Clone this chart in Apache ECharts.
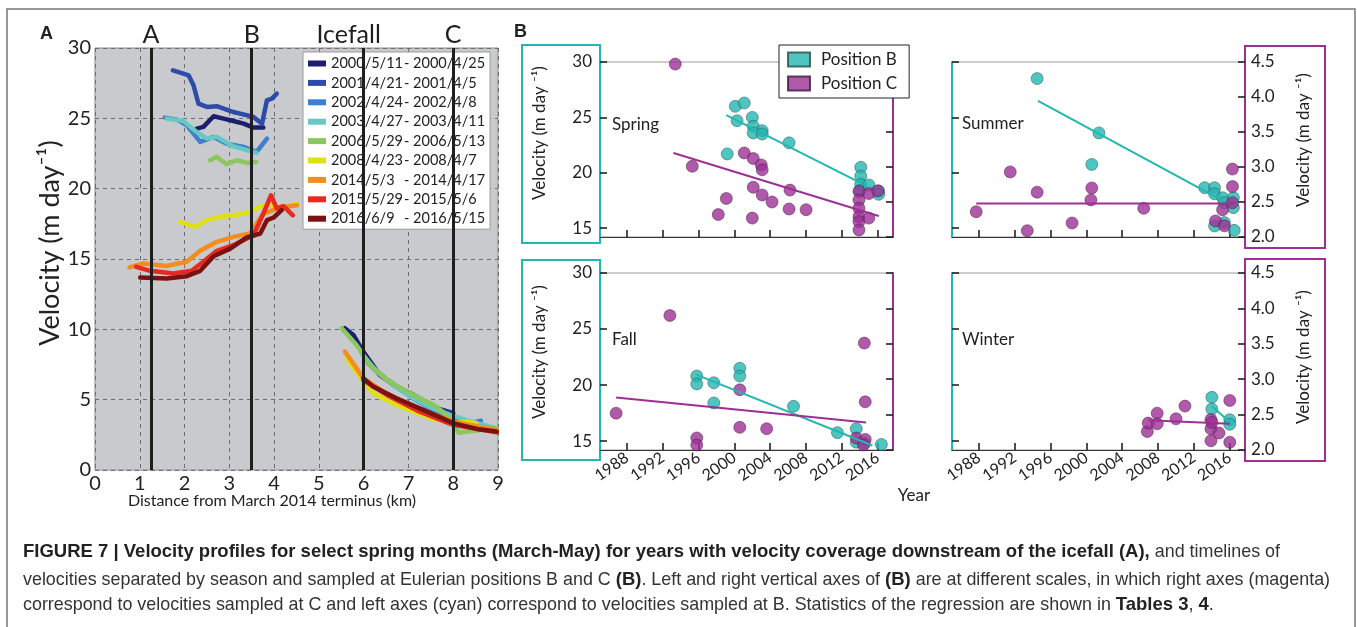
<!DOCTYPE html>
<html>
<head>
<meta charset="utf-8">
<script src="https://cdn.jsdelivr.net/npm/echarts@6.0.0/dist/echarts.min.js"></script>
<style>
  html, body { margin: 0; padding: 0; background: #fff; }
  #chart { width: 1357px; height: 627px; }
</style>
</head>
<body>
<div id="chart"></div>
<script>
// ---- Panel A: spring velocity profiles (km, m/day) ----
const profileNames = [
  '2000/5/11 - 2000/4/25', '2001/4/21 - 2001/4/5', '2002/4/24 - 2002/4/8',
  '2003/4/27 - 2003/4/11', '2006/5/29 - 2006/5/13', '2008/4/23 - 2008/4/7',
  '2014/5/3 - 2014/4/17', '2015/5/29 - 2015/5/6', '2016/6/9 - 2016/5/15'
]
const profileColors = ['#1d1f6e', '#2d4ba9', '#3c80cf', '#67c8c3', '#8bc65e', '#dfe013', '#f38d1d', '#e8291f', '#7b1212']

const up2000 = [[2.27, 24.27], [2.42, 24.39], [2.65, 25.15], [2.87, 24.98], [3.09, 24.81], [3.32, 24.62], [3.54, 24.34], [3.76, 24.34]]
const up2001 = [[1.74, 28.41], [1.94, 28.22], [2.09, 28.06], [2.2, 27.35], [2.31, 26.05], [2.5, 25.81], [2.72, 25.86], [3.09, 25.45], [3.54, 25.1], [3.73, 24.62], [3.84, 26.28], [3.95, 26.4], [4.06, 26.76]]
const up2002 = [[1.56, 25.05], [1.83, 24.91], [2.05, 24.51], [2.35, 23.32], [2.65, 23.68], [2.94, 23.2], [3.32, 22.97], [3.61, 22.61], [3.84, 23.56]]
const up2003 = [[1.6, 24.98], [1.97, 24.81], [2.27, 24.03], [2.5, 23.56], [2.72, 23.68], [3.09, 23.01], [3.61, 22.54]]
const up2006 = [[2.57, 22.02], [2.72, 22.26], [2.94, 21.74], [3.17, 22.02], [3.39, 21.83], [3.6, 21.9]]
const up2008 = [[1.9, 17.64], [2.24, 17.28], [2.5, 17.76], [2.79, 18.0], [3.09, 18.11], [3.46, 18.35], [3.76, 18.82], [4.14, 18.7], [4.51, 18.89]]
const up2014 = [[0.77, 14.4], [1.08, 14.68], [1.6, 14.51], [2.05, 14.8], [2.35, 15.58], [2.72, 16.22], [3.09, 16.57], [3.46, 16.81], [3.76, 18.23], [4.14, 18.66], [4.51, 18.82]]
const up2015 = [[0.92, 14.44], [1.23, 14.16], [1.75, 13.97], [2.16, 14.16], [2.42, 14.8], [2.72, 15.58], [3.09, 15.98], [3.54, 16.69], [3.76, 18.23], [3.93, 19.53], [4.06, 18.59], [4.21, 18.75], [4.42, 18.11]]
const up2016 = [[1.01, 13.68], [1.6, 13.61], [2.05, 13.78], [2.35, 14.16], [2.65, 15.2], [3.02, 15.74], [3.39, 16.53], [3.69, 16.81], [3.84, 17.76], [3.99, 17.95], [4.17, 18.47]]

const down2000 = [[5.58, 10.08], [5.77, 9.6], [5.99, 8.42], [6.36, 6.76], [6.73, 5.93], [7.11, 5.34], [7.63, 4.39], [8.0, 4.04]]
const down2001 = [[6.1, 7.6], [6.4, 6.7], [6.8, 5.8], [7.2, 5.1], [7.6, 4.4], [7.98, 3.95]]
const down2002 = [[6.2, 7.3], [6.6, 6.2], [7.1, 5.1], [7.6, 4.2], [8.1, 3.55], [8.4, 3.35], [8.62, 3.5]]
const down2003 = [[5.95, 8.3], [6.29, 7.0], [6.7, 5.95], [7.11, 5.1], [7.5, 4.45], [7.92, 3.92], [8.52, 3.33], [8.97, 2.97]]
const down2006 = [[5.51, 10.08], [5.84, 8.89], [6.14, 7.47], [6.58, 6.28], [7.11, 5.34], [7.63, 4.51], [7.95, 3.6], [8.12, 2.65], [8.37, 2.75], [8.97, 2.97]]
const down2008 = [[5.62, 7.95], [5.92, 6.64], [6.21, 5.46], [6.73, 4.63], [7.2, 4.05], [7.48, 3.68], [8.07, 3.33], [8.3, 3.44], [8.52, 3.33]]
const down2014 = [[5.58, 8.42], [5.84, 7.24], [5.99, 6.53], [6.44, 5.57], [7.11, 4.51], [8.0, 3.44], [8.97, 2.85]]
const down2015 = [[5.99, 6.4], [6.58, 5.22], [7.25, 4.15], [8.0, 3.21], [8.97, 2.69]]
const down2016 = [[5.99, 6.53], [6.21, 5.93], [6.73, 5.1], [7.33, 4.27], [8.0, 3.33], [8.52, 2.92], [8.97, 2.73]]

const upstream = [up2000, up2001, up2002, up2003, up2006, up2008, up2014, up2015, up2016]
const downstream = [down2000, down2001, down2002, down2003, down2006, down2008, down2014, down2015, down2016]

// Eulerian positions and icefall (km)
const positionNames = ['A', 'B', 'Icefall', 'C']
const positionKm = [1.25, 3.5, 6, 8]

// ---- Panel B: seasonal timelines (B on left axis, C on right axis) ----
const yearTicks = [1988, 1992, 1996, 2000, 2004, 2008, 2012, 2016]
const leftTicks = [15, 20, 25, 30]

const springB = [[2000.1, 26.0], [2001.1, 26.3], [2000.3, 24.7], [2002.0, 25.0], [2002.1, 24.2], [2003.1, 23.8], [2002.1, 23.6], [2003.1, 23.5], [2006.1, 22.7], [1999.2, 21.7], [2014.1, 20.5], [2014.1, 19.7], [2014.1, 18.95], [2014.0, 18.4], [2015.0, 18.9], [2016.1, 18.35], [2016.1, 18.05]]
const springC = [[1993.4, 4.47], [1995.3, 3.01], [1998.2, 2.32], [1999.1, 2.55], [2001.1, 3.2], [2002.1, 3.12], [2003.0, 3.03], [2003.1, 2.96], [2002.1, 2.71], [2003.1, 2.6], [2004.2, 2.5], [2002.0, 2.27], [2006.2, 2.67], [2006.1, 2.4], [2008.0, 2.39], [2013.9, 2.65], [2013.9, 2.53], [2013.9, 2.41], [2013.9, 2.29], [2013.9, 2.22], [2013.9, 2.1], [2015.0, 2.62], [2015.0, 2.27], [2016.0, 2.66]]
const springBFit = [[1999.1, 25.2], [2014.3, 19.0]]
const springCFit = [[1993.2, 3.2], [2016.1, 2.3]]

const summerB = [[1994.5, 28.5], [2001.4, 23.6], [2000.6, 20.75], [2013.2, 18.65], [2014.3, 18.65], [2014.3, 18.1], [2015.2, 17.75], [2016.4, 17.75], [2015.4, 17.3], [2016.4, 16.85], [2014.3, 15.2], [2015.4, 15.5], [2016.5, 14.8]]
const summerC = [[1987.7, 2.36], [1991.5, 2.93], [1993.4, 2.09], [1994.5, 2.64], [1998.4, 2.2], [2000.6, 2.7], [2000.5, 2.53], [2006.4, 2.41], [2014.4, 2.23], [2015.4, 2.16], [2015.2, 2.39], [2016.3, 2.97], [2016.3, 2.72], [2016.3, 2.49]]
const summerBFit = [[1994.6, 26.5], [2015.4, 17.4]]
const summerCFit = [[1987.7, 2.48], [2016.4, 2.48]]

const fallB = [[1995.8, 20.8], [1995.8, 20.1], [1997.7, 20.2], [1997.7, 18.4], [2000.6, 21.5], [2000.6, 20.8], [2006.6, 18.1], [2011.5, 15.75], [2013.6, 16.1], [2013.6, 14.9], [2014.5, 14.8], [2016.4, 14.7]]
const fallC = [[1986.8, 2.52], [1992.8, 3.9], [1995.8, 2.17], [1995.8, 2.07], [2000.6, 2.85], [2000.6, 2.32], [2003.6, 2.3], [2013.6, 2.17], [2014.5, 3.51], [2014.6, 2.68], [2014.6, 2.15], [2014.4, 2.07]]
const fallBFit = [[1995.8, 20.9], [2015.4, 14.6]]
const fallCFit = [[1986.8, 2.74], [2014.7, 2.39]]

const winterB = [[2014.0, 18.9], [2014.0, 17.85], [2016.0, 16.9], [2016.0, 16.5]]
const winterC = [[2006.8, 2.26], [2006.9, 2.38], [2007.9, 2.52], [2007.9, 2.37], [2010.0, 2.44], [2011.0, 2.62], [2013.9, 2.43], [2013.9, 2.3], [2013.9, 2.13], [2014.0, 2.39], [2014.8, 2.24], [2016.0, 2.7], [2016.0, 2.11]]
const winterBFit = [[2014.0, 18.1], [2016.0, 16.7]]
const winterCFit = [[2006.9, 2.42], [2016.0, 2.37]]

const seasons = ['Spring', 'Summer', 'Fall', 'Winter']
const seasonB = [springB, summerB, fallB, winterB]
const seasonC = [springC, summerC, fallC, winterC]
const seasonBFit = [springBFit, summerBFit, fallBFit, winterBFit]
const seasonCFit = [springCFit, summerCFit, fallCFit, winterCFit]

const cyan = '#22b7b2'
const magenta = '#9d2f95'
const font = 'Lato'
const capFont = 'Liberation Sans'

// layout of the four small panels: [left, top, height]
const smallGrids = [[600, 62, 175], [952, 62, 175], [600, 273, 177], [952, 273, 177]]

const grids = [{left: 95, top: 48, width: 403, height: 422, show: true, backgroundColor: '#c9cacd', borderColor: '#8a8a8a', borderWidth: 1}]
smallGrids.forEach(g => grids.push({left: g[0], top: g[1], width: 293, height: g[2], show: true, backgroundColor: '#fff', borderColor: '#9a9a9a', borderWidth: 1}))

const xAxes = [{
  gridIndex: 0, type: 'value', min: 0, max: 9, interval: 1,
  axisLine: {show: false}, axisTick: {show: false},
  axisLabel: {fontSize: 20, color: '#222', fontFamily: font, margin: 4},
  splitLine: {show: true, lineStyle: {color: '#6e6e6e', type: [4, 4], width: 1}}
}]
const yAxes = [{
  gridIndex: 0, type: 'value', min: 0, max: 30, interval: 5,
  axisLine: {show: false}, axisTick: {show: false},
  axisLabel: {fontSize: 20, color: '#222', fontFamily: font, margin: 4},
  splitLine: {show: true, lineStyle: {color: '#6e6e6e', type: [4, 4], width: 1}}
}]

seasons.forEach((s, i) => {
  const gi = i + 1
  const bottomRow = i >= 2
  const leftCol = i % 2 === 0
  xAxes.push({
    gridIndex: gi, type: 'value', min: 1985, max: 2017.7,
    axisLine: {show: true, lineStyle: {color: '#333', width: 1}},
    axisTick: {show: true, inside: true, length: 7, customValues: yearTicks, lineStyle: {color: '#222', width: 1.6}},
    axisLabel: {show: bottomRow, customValues: yearTicks, rotate: 35, fontSize: 16, color: '#222', fontFamily: font, margin: 6,
      formatter: v => String(v)},
    splitLine: {show: false}
  })
  yAxes.push({
    gridIndex: gi, type: 'value', position: 'left', min: 14.2, max: 30,
    axisLine: {show: true, lineStyle: {color: cyan, width: 2}},
    axisTick: {show: true, inside: true, length: 7, customValues: leftTicks, lineStyle: {color: '#222', width: 1.6}},
    axisLabel: {show: leftCol, customValues: leftTicks, fontSize: 17, color: '#222', fontFamily: font, margin: 8},
    splitLine: {show: false}
  })
  yAxes.push({
    gridIndex: gi, type: 'value', position: 'right', min: 2.0, max: 4.5, interval: 0.5,
    axisLine: {show: true, lineStyle: {color: magenta, width: 2}},
    axisTick: {show: true, inside: true, length: 7, lineStyle: {color: '#222', width: 1.6}},
    axisLabel: {show: !leftCol, fontSize: 17, color: '#222', fontFamily: font, margin: 6, formatter: v => v.toFixed(1)},
    splitLine: {show: false}
  })
})

const series = []
// vertical position markers
series.push({
  type: 'line', xAxisIndex: 0, yAxisIndex: 0, data: [], silent: true,
  markLine: {
    symbol: 'none', silent: true, animation: false,
    lineStyle: {color: '#1e1e1e', type: 'solid', width: 3},
    label: {show: true, position: 'end', formatter: '{b}', fontSize: 25, color: '#1e1e1e', fontFamily: font, distance: 1},
    data: positionNames.map((n, i) => ({name: n, xAxis: positionKm[i], label: {offset: [n === 'Icefall' ? -15 : 0, 0]}}))
  }
})
profileNames.forEach((n, i) => {
  const style = {name: n, type: 'line', xAxisIndex: 0, yAxisIndex: 0, symbol: 'none', color: profileColors[i],
    lineStyle: {width: 4.5, color: profileColors[i], cap: 'round', join: 'round'}, animation: false}
  series.push({...style, data: upstream[i]})
  series.push({...style, data: downstream[i]})
})
seasons.forEach((s, i) => {
  const xi = i + 1
  const yl = 1 + i * 2
  const yr = 2 + i * 2
  series.push({name: 'fitB', type: 'line', xAxisIndex: xi, yAxisIndex: yl, data: seasonBFit[i], symbol: 'none', lineStyle: {color: cyan, width: 2}, animation: false})
  series.push({name: 'fitC', type: 'line', xAxisIndex: xi, yAxisIndex: yr, data: seasonCFit[i], symbol: 'none', lineStyle: {color: magenta, width: 2}, animation: false})
  series.push({name: 'Position B', type: 'scatter', xAxisIndex: xi, yAxisIndex: yl, data: seasonB[i], symbolSize: 12, color: cyan,
    itemStyle: {color: cyan, borderColor: '#2a4a48', borderWidth: 0.6}, animation: false})
  series.push({name: 'Position C', type: 'scatter', xAxisIndex: xi, yAxisIndex: yr, data: seasonC[i], symbolSize: 12, color: magenta,
    itemStyle: {color: magenta, borderColor: '#3a1a38', borderWidth: 0.6}, animation: false})
})

const txt = (x, y, text, opts = {}) => ({
  type: 'text', x, y, rotation: opts.rotation || 0, silent: true,
  style: {text, fontSize: opts.size || 17, fontFamily: opts.family || font, fontWeight: opts.weight || 'normal',
    fill: '#222', align: opts.align || 'left', verticalAlign: 'middle', rich: opts.rich}
})
const box = (x, y, w, h, color) => ({type: 'rect', silent: true, shape: {x, y, width: w, height: h}, style: {fill: 'none', stroke: color, lineWidth: 2}})

const capRich = {
  b: {fontFamily: capFont, fontSize: 18.5, fontWeight: 'bold', fill: '#222'},
  n: {fontFamily: capFont, fontSize: 17.9, fill: '#333'}
}

const graphics = [
  {type: 'rect', silent: true, shape: {x: 7, y: 9, width: 1348, height: 640}, style: {fill: 'none', stroke: '#777', lineWidth: 1.5}},
  txt(40, 34, 'A', {weight: 'bold', size: 18, family: 'Liberation Sans'}),
  txt(514, 32, 'B', {weight: 'bold', size: 18, family: 'Liberation Sans'}),
  txt(50, 243, 'Velocity (m day⁻¹)', {size: 27, align: 'center', rotation: Math.PI / 2}),
  txt(272, 501, 'Distance from March 2014 terminus (km)', {size: 16, align: 'center'}),
  txt(914, 496, 'Year', {size: 17, align: 'center'}),
  box(522, 45, 78, 198, cyan),
  box(522, 260, 78, 200, cyan),
  box(1245, 46, 80, 202, magenta),
  box(1245, 259, 80, 202, magenta),
  txt(540, 133, 'Velocity (m day ⁻¹)', {size: 17, align: 'center', rotation: Math.PI / 2}),
  txt(540, 352, 'Velocity (m day ⁻¹)', {size: 17, align: 'center', rotation: Math.PI / 2}),
  txt(1304, 140, 'Velocity (m day ⁻¹)', {size: 17, align: 'center', rotation: Math.PI / 2}),
  txt(1304, 357, 'Velocity (m day ⁻¹)', {size: 17, align: 'center', rotation: Math.PI / 2}),
  txt(612, 125, seasons[0], {size: 17}),
  txt(962, 124, seasons[1], {size: 17}),
  txt(612, 340, seasons[2], {size: 17}),
  txt(962, 340, seasons[3], {size: 17}),
  txt(23, 552, '{b|FIGURE 7 | Velocity profiles for select spring months (March-May) for years with velocity coverage downstream of the icefall (A),}{n| and timelines of}', {rich: capRich}),
  txt(23, 580, '{n|velocities separated by season and sampled at Eulerian positions B and C }{b|(B)}{n|. Left and right vertical axes of }{b|(B)}{n| are at different scales, in which right axes (magenta)}', {rich: capRich}),
  txt(23, 605, '{n|correspond to velocities sampled at C and left axes (cyan) correspond to velocities sampled at B. Statistics of the regression are shown in }{b|Tables 3}{n|, }{b|4}{n|.}', {rich: capRich})
]

const chart = echarts.init(document.getElementById('chart'), null, {renderer: 'canvas'})
chart.setOption({
  backgroundColor: '#fff',
  animation: false,
  grid: grids,
  xAxis: xAxes,
  yAxis: yAxes,
  legend: [{
    data: profileNames, orient: 'vertical', left: 303, top: 52,
    backgroundColor: '#fff', borderColor: '#9a9a9a', borderWidth: 1, padding: [4, 5, 3, 5],
    icon: 'rect', itemWidth: 18, itemHeight: 6, itemGap: 4.4, selectedMode: false,
    formatter: name => {
      const parts = name.split(' - ')
      return '{a|' + parts[0] + '}{b|- ' + parts[1] + '}'
    },
    textStyle: {fontFamily: font, fontSize: 14.5, color: '#222',
      rich: {a: {width: 73, fontFamily: font, fontSize: 14.5, color: '#222'}, b: {fontFamily: font, fontSize: 14.5, color: '#222'}}}
  }, {
    data: ['Position B', 'Position C'], orient: 'vertical', left: 779, top: 45,
    backgroundColor: '#fff', borderColor: '#222', borderWidth: 1, padding: [6, 12, 6, 8],
    icon: 'rect', itemWidth: 22, itemHeight: 14, itemGap: 7, selectedMode: false,
    textStyle: {fontFamily: font, fontSize: 17, color: '#222', padding: [0, 0, 0, 6]}
  }],
  series: series,
  graphic: graphics
})
</script>
</body>
</html>
